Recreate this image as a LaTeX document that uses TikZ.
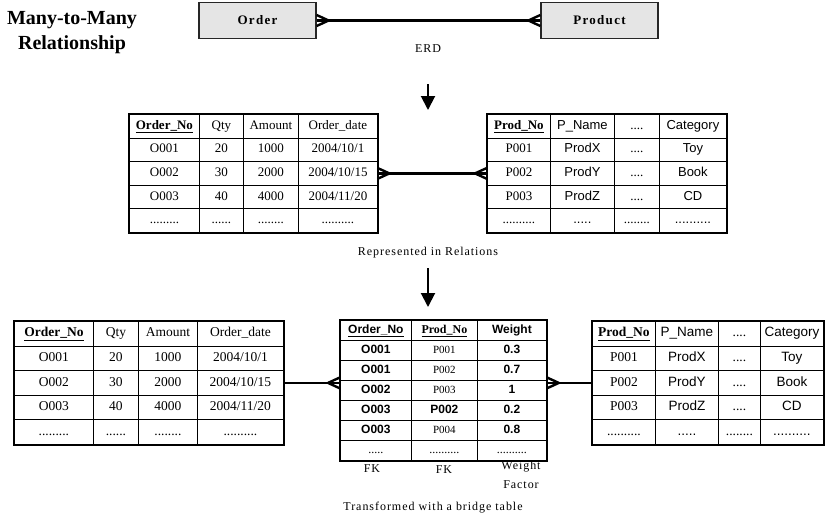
\documentclass[tikz,border=0pt]{standalone}
\usepackage{fontspec}
\setmainfont{Liberation Serif}
\setsansfont{Liberation Sans}
\newfontfamily\lsserif[LetterSpace=8]{Liberation Serif}
\newfontfamily\lsbold[LetterSpace=10]{Liberation Serif Bold}
\usetikzlibrary{matrix,calc,arrows.meta}
\newcommand\crowfoot[2]{\draw[conn] ($(#1)+(#2,0)$) -- ($(#1)+(0,-5.5)$) ($(#1)+(#2,0)$) -- ($(#1)+(0,5.5)$);}
\newcommand\szA{\fontsize{13}{15}\selectfont}
\newcommand\szB{\fontsize{13.5}{15}\selectfont}
\newcommand\szC{\fontsize{12}{14}\selectfont}
\tikzset{
  conn/.style={line width=2.4pt},
  darrow/.style={line width=2pt,-{Triangle[width=14pt,length=14pt]}},
  erdbox/.style={draw=black!85,line width=1.3pt,fill=gray!20,minimum width=117pt,minimum height=36pt,inner sep=0pt,font=\lsbold\fontsize{13}{15}\selectfont},
  tbl/.style={matrix of nodes,inner sep=0pt,outer sep=0pt,anchor=north west,column sep=-0.8pt,row sep=-0.8pt,
    nodes={draw,line width=0.8pt,inner sep=0pt,anchor=center,minimum height=#1}},
  frame/.style={line width=1.4pt},
  lbl/.style={font=\lsserif\fontsize{12}{14}\selectfont,inner sep=0pt},
}
\begin{document}
\begin{tikzpicture}[x=1pt,y=-1pt]
\useasboundingbox (0,0) rectangle (825,520);

% title
\node[font=\fontsize{20}{25}\selectfont\bfseries,align=center,inner sep=0pt] (title) at (72,33) {Many-to-Many\\Relationship};

% ERD
\node[erdbox] (order) at (257.5,20.5) {Order};
\node[erdbox] (product) at (599.5,20.5) {Product};
\draw[conn] (order.east) -- (product.west);
\crowfoot{order.east}{12}
\crowfoot{product.west}{-12}
\node[lbl] (erd) at (428,49) {ERD};

\coordinate (a1s) at (428,84);
\coordinate (a1e) at (428,110);
\draw[darrow] (a1s) -- (a1e);

% top order table
\matrix[tbl=23.6pt,nodes={font=\szA,text height=9pt,text depth=3pt},
  column 1/.style={nodes={minimum width=70pt}},
  column 2/.style={nodes={minimum width=44pt}},
  column 3/.style={nodes={minimum width=55pt}},
  column 4/.style={nodes={minimum width=79pt}}] (t1) at (129,114) {
  |[font=\szA\bfseries]| \underline{Order\_No} & Qty & Amount & Order\_date \\
  O001 & 20 & 1000 & 2004/10/1 \\
  O002 & 30 & 2000 & 2004/10/15 \\
  O003 & 40 & 4000 & 2004/11/20 \\
  ......... & ...... & ........ & .......... \\
};
\draw[frame] (t1.north west) rectangle (t1.south east);

% top product table
\matrix[tbl=23.6pt,nodes={font=\szA,text height=9pt,text depth=3pt},
  column 1/.style={nodes={minimum width=63pt}},
  column 2/.style={nodes={minimum width=64pt,font=\szA\sffamily}},
  column 3/.style={nodes={minimum width=45pt}},
  column 4/.style={nodes={minimum width=67pt,font=\szA\sffamily}}] (t2) at (487,114) {
  |[font=\szA\bfseries]| \underline{Prod\_No} & P\_Name & .... & Category \\
  P001 & ProdX & .... & Toy \\
  P002 & ProdY & .... & Book \\
  P003 & ProdZ & .... & CD \\
  .......... & ..... & ........ & .......... \\
};
\draw[frame] (t2.north west) rectangle (t2.south east);

\coordinate (c2) at (t1-3-4.east -| t2.west);
\draw[conn] (t1-3-4.east) -- (c2);
\crowfoot{t1-3-4.east}{12}
\crowfoot{c2}{-12}

\node[lbl] (rep) at (428,253) {Represented in Relations};

\coordinate (a2s) at (428,268);
\coordinate (a2e) at (428,307);
\draw[darrow] (a2s) -- (a2e);

% bottom order table
\matrix[tbl=24.6pt,nodes={font=\szB,text height=9.5pt,text depth=3pt},
  column 1/.style={nodes={minimum width=79pt}},
  column 2/.style={nodes={minimum width=45pt}},
  column 3/.style={nodes={minimum width=59pt}},
  column 4/.style={nodes={minimum width=86pt}}] (t3) at (14,321) {
  |[font=\szB\bfseries]| \underline{Order\_No} & Qty & Amount & Order\_date \\
  O001 & 20 & 1000 & 2004/10/1 \\
  O002 & 30 & 2000 & 2004/10/15 \\
  O003 & 40 & 4000 & 2004/11/20 \\
  ......... & ...... & ........ & .......... \\
};
\draw[frame] (t3.north west) rectangle (t3.south east);

% bridge table
\matrix[tbl=20pt,nodes={text height=8.5pt,text depth=2.5pt},
  column 1/.style={nodes={minimum width=71pt,font=\szC\sffamily\bfseries}},
  column 2/.style={nodes={minimum width=66pt,font=\fontsize{11}{13}\selectfont}},
  column 3/.style={nodes={minimum width=69pt,font=\szC\sffamily\bfseries}}] (t4) at (340,320) {
  \underline{Order\_No} & |[font=\fontsize{12}{14}\selectfont\bfseries]| \underline{Prod\_No} & Weight \\
  O001 & P001 & 0.3 \\
  O001 & P002 & 0.7 \\
  O002 & P003 & 1 \\
  O003 & |[font=\szC\sffamily\bfseries]| P002 & 0.2 \\
  O003 & P004 & 0.8 \\
  |[font=\szC]| ..... & |[font=\szC]| .......... & |[font=\szC]| .......... \\
};
\draw[frame] (t4.north west) rectangle (t4.south east);

% bottom product table
\matrix[tbl=24.6pt,nodes={font=\szB,text height=9.5pt,text depth=3pt},
  column 1/.style={nodes={minimum width=63pt}},
  column 2/.style={nodes={minimum width=63pt,font=\szB\sffamily}},
  column 3/.style={nodes={minimum width=42pt}},
  column 4/.style={nodes={minimum width=63pt,font=\szB\sffamily}}] (t5) at (592,321) {
  |[font=\szB\bfseries]| \underline{Prod\_No} & P\_Name & .... & Category \\
  P001 & ProdX & .... & Toy \\
  P002 & ProdY & .... & Book \\
  P003 & ProdZ & .... & CD \\
  .......... & ..... & ........ & .......... \\
};
\draw[frame] (t5.north west) rectangle (t5.south east);

\coordinate (c4w) at (t3-3-4.east -| t4.west);
\coordinate (c4e) at (t3-3-4.east -| t4.east);
\coordinate (c5) at (t3-3-4.east -| t5.west);
\draw[conn] (t3-3-4.east) -- (c4w);
\crowfoot{c4w}{-12}
\draw[conn] (c4e) -- (c5);
\crowfoot{c4e}{12}

% bridge labels
\node[lbl] (fk1) at (372,469) {FK};
\node[lbl] (fk2) at (444,470) {FK};
\node[lbl,align=center,font=\lsserif\fontsize{12}{19}\selectfont] (wf) at (521,475) {Weight\\Factor};
\node[lbl] (trans) at (433,508) {Transformed with a bridge table};
\end{tikzpicture}
\end{document}
